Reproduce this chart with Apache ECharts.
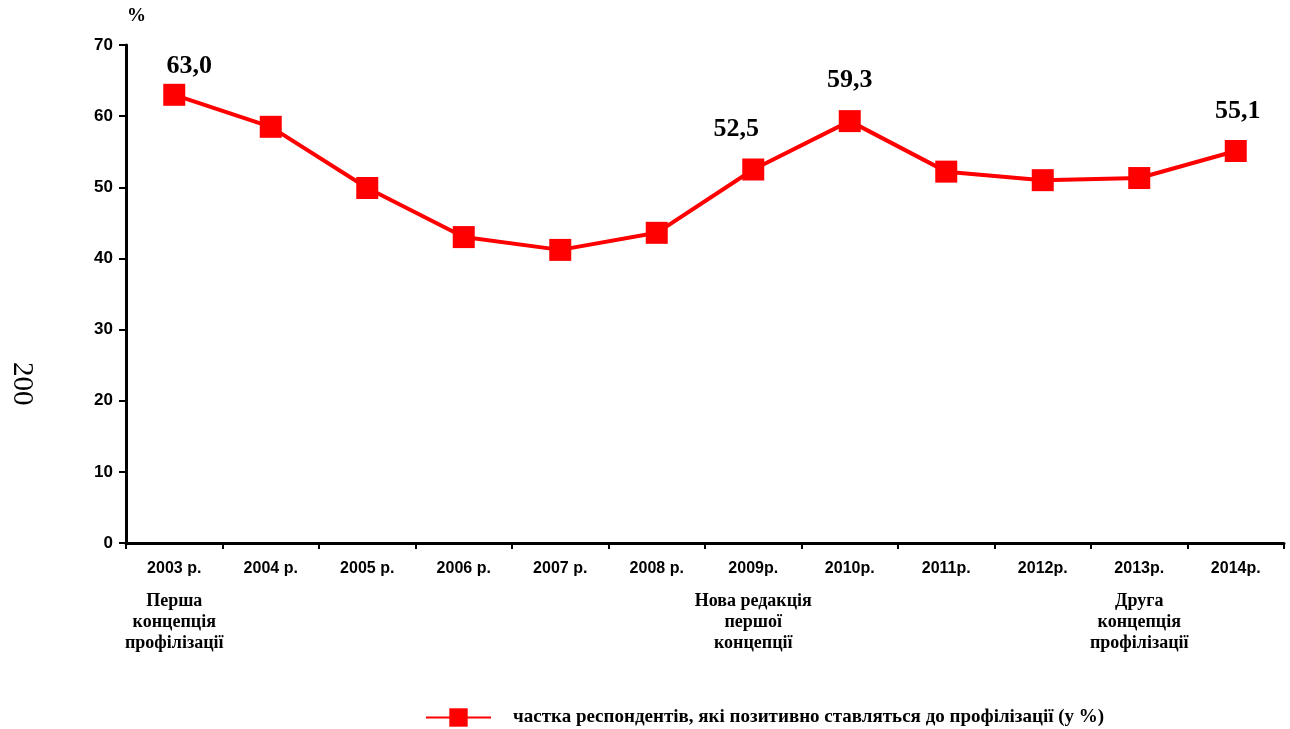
<!DOCTYPE html>
<html>
<head>
<meta charset="utf-8">
<script src="https://cdn.jsdelivr.net/npm/echarts@6/dist/echarts.min.js"></script>
<style>
html,body{margin:0;padding:0;background:#fff;}
#chart{width:1290px;height:729px;}
</style>
</head>
<body>
<div id="chart"></div>
<script>
const years = ['2003 р.', '2004 р.', '2005 р.', '2006 р.', '2007 р.', '2008 р.', '2009р.', '2010р.', '2011р.', '2012р.', '2013р.', '2014р.'];
const notes = ['Перша\nконцепція\nпрофілізації', '', '', '', '', '', 'Нова редакція\nпершої\nконцепції', '', '', '', 'Друга\nконцепція\nпрофілізації', ''];
const values = [63.0, 58.5, 49.9, 43.0, 41.2, 43.6, 52.5, 59.3, 52.2, 51.0, 51.3, 55.1];
const labelled = [0, 6, 7, 11];
const seriesName = 'частка респондентів, які позитивно ставляться до профілізації (у %)';
const yTicks = [0, 10, 20, 30, 40, 50, 60, 70];

const labelOffsets = {0: [15, 0], 6: [-17, -11], 7: [0, -12], 11: [2, -11]};

const chart = echarts.init(document.getElementById('chart'));
const seriesData = values.map((v, i) => {
  const item = {value: v};
  if (labelled.includes(i)) {
    item.label = {
      show: true,
      position: 'top',
      offset: labelOffsets[i],
      formatter: (p) => p.value.toFixed(1).replace('.', ','),
      fontFamily: '"Liberation Serif", "Times New Roman", serif',
      fontWeight: 'bold',
      fontSize: 26,
      color: '#000'
    };
  }
  return item;
});

chart.setOption({
  animation: false,
  backgroundColor: '#fff',
  grid: {left: 126, right: 6, top: 45, bottom: 186, containLabel: false},
  xAxis: {
    type: 'category',
    data: years,
    boundaryGap: true,
    axisLine: {lineStyle: {color: '#000', width: 3}},
    axisTick: {show: true, length: 6, lineStyle: {color: '#000', width: 2}},
    axisLabel: {
      margin: 4,
      interval: 0,
      formatter: (val, idx) => {
        let s = '{y|' + val + '}';
        if (notes[idx]) {
          s += '\n' + notes[idx].split('\n').map(t => '{n|' + t + '}').join('\n');
        }
        return s;
      },
      rich: {
        y: {fontFamily: '"Liberation Sans", Arial, sans-serif', fontWeight: 'bold', fontSize: 16, color: '#000', lineHeight: 44},
        n: {fontFamily: '"Liberation Serif", "Times New Roman", serif', fontWeight: 'bold', fontSize: 18, color: '#000', lineHeight: 21}
      }
    },
    splitLine: {show: false}
  },
  yAxis: {
    type: 'value',
    min: yTicks[0],
    max: yTicks[yTicks.length - 1],
    interval: 10,
    axisLine: {show: true, lineStyle: {color: '#000', width: 3}},
    axisTick: {show: true, length: 7, lineStyle: {color: '#000', width: 2}},
    axisLabel: {
      margin: 13,
      fontFamily: '"Liberation Sans", Arial, sans-serif',
      fontWeight: 'bold',
      fontSize: 17,
      color: '#000'
    },
    splitLine: {show: false}
  },
  legend: {
    show: true,
    left: 425,
    top: 708,
    padding: 0,
    itemWidth: 65,
    itemHeight: 23,
    data: [seriesName],
    textStyle: {
      fontFamily: '"Liberation Serif", "Times New Roman", serif',
      fontSize: 19,
      fontWeight: 'bold',
      color: '#000',
      padding: [0, 0, 16, 17]
    }
  },
  graphic: [
    {
      type: 'text',
      left: 127,
      top: 7,
      style: {text: '%', font: 'bold 19px "Liberation Serif", serif', fill: '#000'}
    },
    {
      type: 'text',
      x: 36,
      y: 362,
      rotation: -Math.PI / 2,
      style: {text: '200', font: '29px "Liberation Serif", serif', fill: '#000'}
    }
  ],
  series: [{
    name: seriesName,
    type: 'line',
    data: seriesData,
    symbol: 'rect',
    symbolSize: 22,
    lineStyle: {color: '#ff0000', width: 4},
    itemStyle: {color: '#ff0000'},
    label: {show: false, fontWeight: 'bold'}
  }]
});
</script>
</body>
</html>
